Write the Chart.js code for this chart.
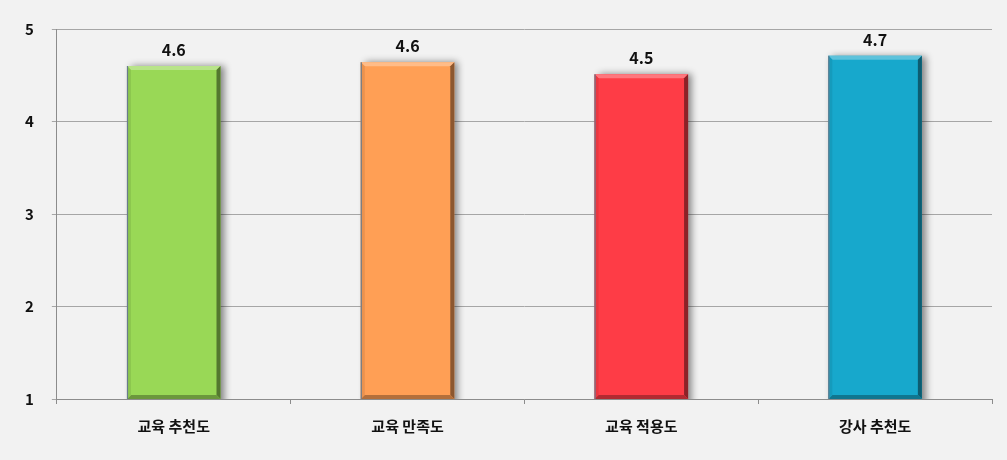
<!DOCTYPE html>
<html>
<head>
<meta charset="utf-8">
<script src="https://cdn.jsdelivr.net/npm/chart.js@4/dist/chart.umd.min.js"></script>
<style>
  html, body { margin: 0; padding: 0; background: #f2f2f2; }
  #wrap { width: 1007px; height: 460px; }
</style>
</head>
<body>
<div id="wrap"><canvas id="chart"></canvas></div>
<script>
// 항목 / 점수
const categories = ['교육 추천도', '교육 만족도', '교육 적용도', '강사 추천도'];
const scores = [4.6, 4.64, 4.51, 4.71];
const barColors = ['#99d856', '#ff9f55', '#fe3c46', '#17a8cc'];
const yTicks = [1, 2, 3, 4, 5];

const FONT = '"Noto Sans CJK KR", "Noto Sans", sans-serif';

function shade(hex, amt) {
  const n = parseInt(hex.slice(1), 16);
  let r = (n >> 16) & 255, g = (n >> 8) & 255, b = n & 255;
  const f = v => Math.max(0, Math.min(255, Math.round(amt < 0 ? v * (1 + amt) : v + (255 - v) * amt)));
  return `rgb(${f(r)},${f(g)},${f(b)})`;
}

// 그림자
const shadowPlugin = {
  id: 'barShadow',
  beforeDatasetDraw(chart) {
    const ctx = chart.ctx;
    ctx.save();
    ctx.shadowColor = 'rgba(0,0,0,0.45)';
    ctx.shadowBlur = 7;
    ctx.shadowOffsetX = 4;
    ctx.shadowOffsetY = 0;
  },
  afterDatasetDraw(chart) {
    chart.ctx.restore();
  }
};

// 베벨 효과 + 값 라벨
const bevelPlugin = {
  id: 'bevel',
  afterDatasetsDraw(chart) {
    const ctx = chart.ctx;
    const area = chart.chartArea;
    const meta = chart.getDatasetMeta(0);
    meta.data.forEach((bar, i) => {
      const c = barColors[i];
      const l = bar.x - bar.width / 2, r = bar.x + bar.width / 2;
      const t = bar.y, b = Math.min(bar.base, area.bottom);
      const d = 4;
      ctx.save();
      // top
      ctx.fillStyle = shade(c, 0.3);
      ctx.beginPath();
      ctx.moveTo(l, t); ctx.lineTo(r, t); ctx.lineTo(r - d, t + d); ctx.lineTo(l + d, t + d); ctx.closePath();
      ctx.fill();
      // right
      ctx.fillStyle = shade(c, -0.45);
      ctx.beginPath();
      ctx.moveTo(r, t); ctx.lineTo(r, b); ctx.lineTo(r - d, b - d); ctx.lineTo(r - d, t + d); ctx.closePath();
      ctx.fill();
      // bottom
      ctx.fillStyle = shade(c, -0.3);
      ctx.beginPath();
      ctx.moveTo(l, b); ctx.lineTo(r, b); ctx.lineTo(r - d, b - d); ctx.lineTo(l + d, b - d); ctx.closePath();
      ctx.fill();
      // left
      ctx.fillStyle = shade(c, -0.08);
      ctx.beginPath();
      ctx.moveTo(l, t); ctx.lineTo(l, b); ctx.lineTo(l + d, b - d); ctx.lineTo(l + d, t + d); ctx.closePath();
      ctx.fill();
      ctx.strokeStyle = '#6b7b8c';
      ctx.lineWidth = 1.2;
      ctx.beginPath();
      ctx.moveTo(l + 0.5, t); ctx.lineTo(l + 0.5, b);
      ctx.stroke();

      ctx.fillStyle = '#111';
      ctx.font = 'bold 16px ' + FONT;
      ctx.textAlign = 'center';
      ctx.textBaseline = 'bottom';
      ctx.fillText(scores[i].toFixed(1), bar.x, t - 8);
      ctx.restore();
    });
  }
};

new Chart(document.getElementById('chart'), {
  type: 'bar',
  data: {
    labels: categories,
    datasets: [{
      data: scores,
      backgroundColor: barColors,
      borderWidth: 0,
      barPercentage: 0.4,
      categoryPercentage: 1.0
    }]
  },
  options: {
    responsive: true,
    maintainAspectRatio: false,
    animation: false,
    layout: { padding: { left: 7, right: 15, top: 29, bottom: 12 } },
    plugins: {
      legend: { display: false },
      tooltip: { enabled: false }
    },
    scales: {
      x: {
        offset: true,
        grid: {
          offset: true,
          drawOnChartArea: false,
          drawTicks: true,
          tickLength: 5,
          color: '#8c8c8c'
        },
        border: { color: '#8c8c8c', width: 1 },
        ticks: {
          padding: 13,
          color: '#111',
          font: { family: FONT, size: 15, weight: 'bold' }
        }
      },
      y: {
        min: 1,
        max: 5,
        afterBuildTicks(axis) { axis.ticks = yTicks.map(v => ({ value: v })); },
        grid: {
          color: '#a6a6a6',
          tickLength: 5
        },
        border: { color: '#8c8c8c', width: 1 },
        ticks: {
          padding: 18,
          color: '#111',
          font: { family: FONT, size: 15, weight: 'bold' }
        }
      }
    }
  },
  plugins: [shadowPlugin, bevelPlugin]
});
</script>
</body>
</html>
